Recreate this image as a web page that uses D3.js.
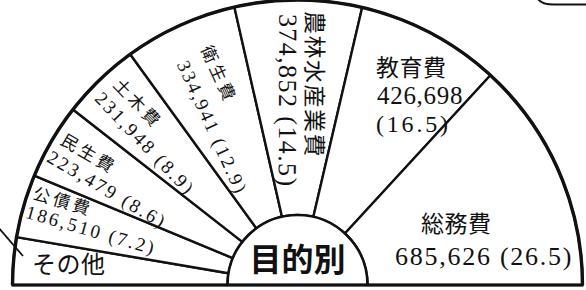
<!DOCTYPE html>
<html>
<head>
<meta charset="utf-8">
<style>
  html, body { margin: 0; padding: 0; background: #fff; }
  svg { display: block; }
  .jp { font-family: "Noto Sans CJK JP", sans-serif; fill: #111; }
  .num { font-family: "Liberation Serif", serif; fill: #111; }
</style>
</head>
<body>
<svg></svg>
<script src="https://cdn.jsdelivr.net/npm/d3@7"></script>
<script>

  // data, left to right along the half circle
  const categories = ["その他", "公債費", "民生費", "土木費", "衛生費", "農林水産業費", "教育費", "総務費"]
  const amounts = [140000, 186510, 223479, 231948, 334941, 374852, 426698, 685626]  // その他 estimated from its slice
  const shares = [null, 7.2, 8.6, 8.9, 12.9, 14.5, 16.5, 26.5]
  const centerLabel = "目的別"

  const width = 586,
        height = 290

  const cx = 297.5, cy = 285,
        rOuter = 285, rInner = 70

  // label layout: "rot" labels run along the slice's middle, reading inward
  const labelLayout = [
    {kind: "flat", lines: [{x: 32, y: 273, fs: 24, text: "name"}]},
    {kind: "rot", r1: 279, y1: -9, r2: 281, y2: 11, fs1: 17, fs2: 19, pitch: 10.2},
    {kind: "rot", r1: 277, y1: -2, r2: 280, y2: 20, fs1: 17, fs2: 19, pitch: 10.2},
    {kind: "rot", r1: 272, y1: -5, r2: 275, y2: 18, fs1: 17, fs2: 19, pitch: 10.2},
    {kind: "rot", r1: 255, y1: -9, r2: 251, y2: 19, fs1: 17, fs2: 19, pitch: 10.2},
    {kind: "rot", r1: 274, y1: -8, r2: 271, y2: 19, fs1: 23, fs2: 26, pitch: 12.3},
    {kind: "flat", lines: [
      {x: 376, y: 76, fs: 23, text: "name"},
      {x: 377, y: 104, fs: 25, text: "amount", pitch: 12.2},
      {x: 376, y: 132, fs: 24, text: "share", pitch: 12.0}]},
    {kind: "flat", lines: [
      {x: 421, y: 232, fs: 23, text: "name"},
      {x: 395, y: 265, fs: 26, text: "both", pitch: 12.6}]}
  ]

  const fmt = d3.format(",")
  const data = categories.map((c, i) => ({name: c, amount: amounts[i], share: shares[i], layout: labelLayout[i]}))

  const svg = d3.select("svg")
      .attr("width", width)
      .attr("height", height)

  const pie = d3.pie()
    .sort(null)
    .startAngle(-Math.PI / 2)
    .endAngle(Math.PI / 2)
    .value(d => d.amount)

  const arcs = pie(data)

  const arc = d3.arc()
    .innerRadius(rInner)
    .outerRadius(rOuter)

  const chart = svg.append("g")
    .attr("transform", `translate(${cx}, ${cy})`)

  chart.selectAll(".slice")
    .data(arcs)
    .enter()
    .append("path")
      .attr("class", "slice")
      .attr("d", arc)
      .attr("fill", "#fff")
      .attr("stroke", "#111")
      .attr("stroke-width", 2.4)
      .attr("stroke-linejoin", "round")

  // heavier outer rim
  chart.append("path")
    .attr("d", d3.arc().innerRadius(rOuter).outerRadius(rOuter)({startAngle: -Math.PI / 2, endAngle: Math.PI / 2}))
    .attr("fill", "none")
    .attr("stroke", "#111")
    .attr("stroke-width", 3.4)

  // inner half disc
  chart.append("path")
    .attr("d", d3.arc().innerRadius(0).outerRadius(rInner)({startAngle: -Math.PI / 2, endAngle: Math.PI / 2}))
    .attr("fill", "#fff")
    .attr("stroke", "#111")
    .attr("stroke-width", 2.6)

  chart.append("text")
    .attr("class", "jp")
    .attr("x", 0)
    .attr("y", -14)
    .attr("text-anchor", "middle")
    .style("font-size", "32px")
    .style("font-weight", 700)
    .text(centerLabel)

  // base line
  chart.append("line")
    .attr("x1", -rOuter - 1).attr("x2", rOuter + 1)
    .attr("y1", 0).attr("y2", 0)
    .attr("stroke", "#111")
    .attr("stroke-width", 3)

  const shareText = d => `(${d.share.toFixed(1)})`

  function addNum(sel, str, fs, pitch) {
    return sel.append("text")
      .attr("class", "num")
      .style("font-size", fs + "px")
      .attr("textLength", str.length * pitch)
      .attr("lengthAdjust", "spacing")
      .text(str)
  }

  arcs.forEach(a => {
    const d = a.data, L = d.layout
    if (L.kind === "rot") {
      const phi = ((a.startAngle + a.endAngle) / 2 + Math.PI / 2) * 180 / Math.PI
      const g = chart.append("g").attr("transform", `rotate(${phi})`)
      g.append("text")
        .attr("class", "jp")
        .attr("x", -L.r1)
        .attr("y", L.y1)
        .style("font-size", L.fs1 + "px")
        .style("letter-spacing", (L.fs1 > 20 ? 1.5 : 3.5) + "px")
        .text(d.name)
      addNum(g, `${fmt(d.amount)} ${shareText(d)}`, L.fs2, L.pitch)
        .attr("x", -L.r2)
        .attr("y", L.y2)
    } else {
      L.lines.forEach(l => {
        if (l.text === "name") {
          svg.append("text")
            .attr("class", "jp")
            .attr("x", l.x).attr("y", l.y)
            .style("font-size", l.fs + "px")
            .style("letter-spacing", "0.5px")
            .text(d.name)
        } else {
          const str = l.text === "amount" ? fmt(d.amount)
                    : l.text === "share" ? shareText(d)
                    : `${fmt(d.amount)} ${shareText(d)}`
          addNum(svg, str, l.fs, l.pitch)
            .attr("x", l.x).attr("y", l.y)
        }
      })
    }
  })

  // leader line coming in from the left margin
  svg.append("line")
    .attr("x1", -2).attr("y1", 227)
    .attr("x2", 23).attr("y2", 256)
    .attr("stroke", "#111")
    .attr("stroke-width", 1.8)

  // corner of the frame above
  svg.append("path")
    .attr("d", "M538,-1 Q542,5 556,4.5 L588,4.5")
    .attr("fill", "none")
    .attr("stroke", "#111")
    .attr("stroke-width", 2)

</script>
</body>
</html>
